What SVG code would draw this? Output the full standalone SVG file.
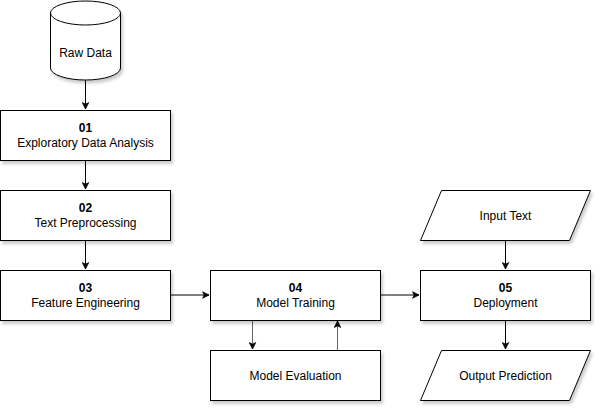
<svg xmlns="http://www.w3.org/2000/svg" width="602" height="412" viewBox="0 0 602 412">
<style>
.n{fill:#ffffff;stroke:#000000;stroke-width:1;filter:url(#sh)}
.t{font-family:"Liberation Sans",Arial,sans-serif;font-size:12px;fill:#000000;text-anchor:middle}
.b{font-weight:bold}
.e{fill:none;stroke:#000000;stroke-width:1}
.g{stroke:#666666}
</style>
<defs>
<filter id="sh" x="-10%" y="-10%" width="130%" height="140%">
<feDropShadow dx="2" dy="3" stdDeviation="1.5" flood-color="#000000" flood-opacity="0.2"/>
</filter>
<marker id="ar" viewBox="0 0 10 10" refX="9" refY="5" markerWidth="8" markerHeight="8" markerUnits="userSpaceOnUse" orient="auto">
<path d="M1,1 L9,5 L1,9 L3,5 Z" fill="#000000" stroke="#000000" stroke-width="1"/>
</marker>
</defs>
<g id="connectors">
<path class="e" d="M85.5,80 L85.5,109" marker-end="url(#ar)"/>
<path class="e" d="M85.5,160 L85.5,189" marker-end="url(#ar)"/>
<path class="e" d="M85.5,240 L85.5,269" marker-end="url(#ar)"/>
<path class="e" d="M171,295 L209,295" marker-end="url(#ar)"/>
<path class="e" d="M381,295 L419,295" marker-end="url(#ar)"/>
<path class="e" d="M505.5,240 L505.5,269" marker-end="url(#ar)"/>
<path class="e" d="M505.5,320 L505.5,349" marker-end="url(#ar)"/>
<path class="e g" d="M252.5,320 L252.5,349" marker-end="url(#ar)"/>
<path class="e g" d="M337.5,350 L337.5,321" marker-end="url(#ar)"/>
</g>
<g id="raw-data">
<path class="n" d="M50.5,13 A35,12 0 0 1 120.5,13 L120.5,68 A35,12 0 0 1 50.5,68 Z"/>
<path class="e" d="M50.5,13 A35,12 0 0 0 120.5,13"/>
<text class="t" x="85.5" y="57">Raw Data</text>
</g>
<g id="n01">
<rect class="n" x="0.5" y="110.5" width="170" height="50"/>
<text class="t b" x="85.5" y="132">01</text>
<text class="t" x="85.5" y="147">Exploratory Data Analysis</text>
</g>
<g id="n02">
<rect class="n" x="0.5" y="190.5" width="170" height="50"/>
<text class="t b" x="85.5" y="212">02</text>
<text class="t" x="85.5" y="227">Text Preprocessing</text>
</g>
<g id="n03">
<rect class="n" x="0.5" y="270.5" width="170" height="50"/>
<text class="t b" x="85.5" y="292">03</text>
<text class="t" x="85.5" y="307">Feature Engineering</text>
</g>
<g id="n04">
<rect class="n" x="210.5" y="270.5" width="170" height="50"/>
<text class="t b" x="295.5" y="292">04</text>
<text class="t" x="295.5" y="307">Model Training</text>
</g>
<g id="eval">
<rect class="n" x="210.5" y="350.5" width="170" height="50"/>
<text class="t" x="295.5" y="380">Model Evaluation</text>
</g>
<g id="n05">
<rect class="n" x="420.5" y="270.5" width="170" height="50"/>
<text class="t b" x="505.5" y="292">05</text>
<text class="t" x="505.5" y="307">Deployment</text>
</g>
<g id="input">
<path class="n" d="M420.5,240.5 L441.5,190.5 L590.5,190.5 L569.5,240.5 Z"/>
<text class="t" x="505.5" y="220">Input Text</text>
</g>
<g id="output">
<path class="n" d="M420.5,400.5 L441.5,350.5 L590.5,350.5 L569.5,400.5 Z"/>
<text class="t" x="505.5" y="380">Output Prediction</text>
</g>
</svg>
